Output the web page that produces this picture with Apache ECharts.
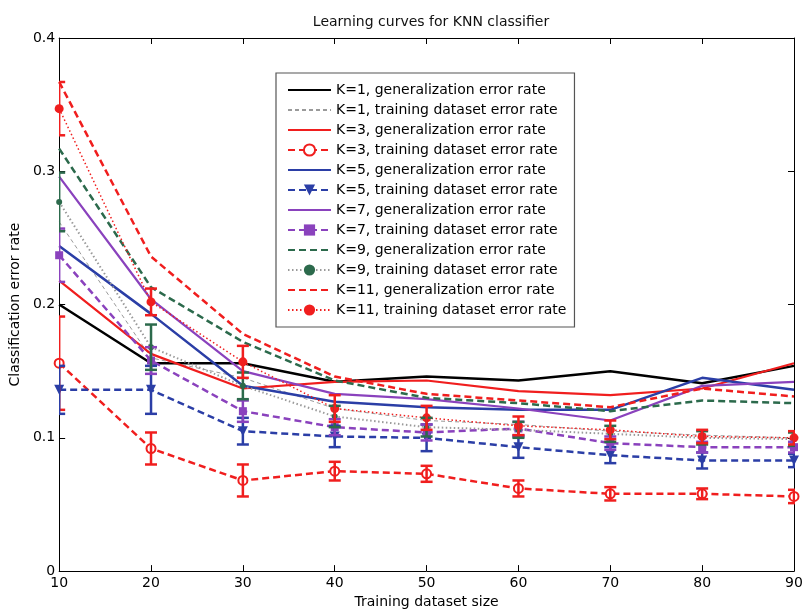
<!DOCTYPE html>
<html>
<head>
<meta charset="utf-8">
<script src="https://cdn.jsdelivr.net/npm/echarts@6/dist/echarts.min.js"></script>
<style>
html,body{margin:0;padding:0;background:#fff;}
#chart{width:810px;height:614px;}
</style>
</head>
<body>
<div id="chart"></div>
<script>
// ---- data ----
const sizes = [10, 20, 30, 40, 50, 60, 70, 80, 90];
const yTicks = [0, 0.1, 0.2, 0.3, 0.4];

const k1Gen   = [0.200, 0.156, 0.156, 0.142, 0.146, 0.143, 0.150, 0.141, 0.154];
const k1Train = [0.262, 0.160, 0.145, 0.122, 0.113, 0.110, 0.105, 0.102, 0.100];
const k3Gen   = [0.218, 0.163, 0.137, 0.142, 0.143, 0.135, 0.132, 0.137, 0.156];
const k3Train = [0.156, 0.092, 0.068, 0.075, 0.073, 0.062, 0.058, 0.058, 0.056];
const k3Err   = [0.035, 0.012, 0.012, 0.007, 0.006, 0.006, 0.005, 0.004, 0.005];
const k5Gen   = [0.244, 0.193, 0.139, 0.127, 0.123, 0.121, 0.121, 0.145, 0.136];
const k5Train = [0.136, 0.136, 0.105, 0.101, 0.100, 0.093, 0.087, 0.083, 0.083];
const k5Err   = [0.018, 0.018, 0.010, 0.008, 0.010, 0.008, 0.006, 0.006, 0.005];
const k7Gen   = [0.296, 0.204, 0.150, 0.133, 0.129, 0.122, 0.113, 0.139, 0.142];
const k7Train = [0.237, 0.158, 0.120, 0.108, 0.104, 0.107, 0.096, 0.093, 0.093];
const k7Err   = [0.020, 0.010, 0.008, 0.006, 0.006, 0.005, 0.005, 0.004, 0.004];
const k9Gen   = [0.317, 0.213, 0.172, 0.143, 0.130, 0.126, 0.120, 0.128, 0.126];
const k9Train = [0.277, 0.168, 0.139, 0.116, 0.108, 0.106, 0.103, 0.100, 0.099];
const k9Err   = [0.022, 0.017, 0.010, 0.008, 0.007, 0.006, 0.006, 0.005, 0.005];
const k11Gen  = [0.367, 0.236, 0.178, 0.146, 0.133, 0.128, 0.123, 0.137, 0.131];
const k11Train= [0.347, 0.202, 0.157, 0.122, 0.115, 0.109, 0.106, 0.101, 0.100];
const k11Err  = [0.020, 0.010, 0.012, 0.010, 0.009, 0.007, 0.007, 0.005, 0.005];

const names = [
  'K=1, generalization error rate', 'K=1, training dataset error rate',
  'K=3, generalization error rate', 'K=3, training dataset error rate',
  'K=5, generalization error rate', 'K=5, training dataset error rate',
  'K=7, generalization error rate', 'K=7, training dataset error rate',
  'K=9, generalization error rate', 'K=9, training dataset error rate',
  'K=11, generalization error rate', 'K=11, training dataset error rate'
];
// which legend entries carry a marker
const hasMarker = [false, false, false, true, false, true, false, true, false, true, false, true];

// ---- styles ----
const RED = '#f01e1e', BLUE = '#2b3ea6', PURPLE = '#8a42bd', GREEN = '#2c6a4c', BLACK = '#000000', GRAY = '#9a9a9a';
const DASH = [7, 4], DOT = [1.5, 2.5];
const FONT = '"DejaVu Sans", Verdana, sans-serif';

function pairs(vals) { return sizes.map((x, i) => [x, vals[i]]); }
function triples(vals, errs) { return sizes.map((x, i) => [x, vals[i], errs[i]]); }

function lineSeries(name, vals, color, width, type, symbol, symbolSize, symColor, filled) {
  return {
    name, type: 'line', data: pairs(vals), z: 3,
    symbol: symbol || 'none', symbolSize: symbolSize || 0, showSymbol: !!symbol,
    lineStyle: { color, width, type },
    itemStyle: { color: symColor || color, borderColor: symColor || color, borderWidth: filled ? 0 : 1.8 },
    emphasis: { disabled: true },
    animation: false
  };
}

function errSeries(name, vals, errs, color) {
  return {
    name, type: 'custom', data: triples(vals, errs), z: 4, clip: true,
    animation: false, silent: true,
    renderItem(params, api) {
      const x = api.value(0), y = api.value(1), e = api.value(2);
      const hi = api.coord([x, y + e]);
      const lo = api.coord([x, y - e]);
      const w = 6;
      const st = { stroke: color, lineWidth: 2.5, fill: null };
      return {
        type: 'group', children: [
          { type: 'line', shape: { x1: hi[0], y1: hi[1], x2: lo[0], y2: lo[1] }, style: st },
          { type: 'line', shape: { x1: hi[0] - w, y1: hi[1], x2: hi[0] + w, y2: hi[1] }, style: st },
          { type: 'line', shape: { x1: lo[0] - w, y1: lo[1], x2: lo[0] + w, y2: lo[1] }, style: st }
        ]
      };
    }
  };
}

const triDown = 'path://M0,0 L10,0 L5,9 Z';

const series = [
  lineSeries(names[0], k1Gen, BLACK, 2.5, 'solid'),
  lineSeries(names[1], k1Train, GRAY, 1, [4, 3]),
  lineSeries(names[2], k3Gen, RED, 2.2, 'solid'),
  errSeries('e3', k3Train, k3Err, RED),
  lineSeries(names[3], k3Train, RED, 2.5, DASH, 'emptyCircle', 9, RED, false),
  lineSeries(names[4], k5Gen, BLUE, 2.5, 'solid'),
  errSeries('e5', k5Train, k5Err, BLUE),
  lineSeries(names[5], k5Train, BLUE, 2.5, DASH, triDown, 10, BLUE, true),
  lineSeries(names[6], k7Gen, PURPLE, 2.2, 'solid'),
  errSeries('e7', k7Train, k7Err, PURPLE),
  lineSeries(names[7], k7Train, PURPLE, 2.5, DASH, 'rect', 8, PURPLE, true),
  lineSeries(names[8], k9Gen, GREEN, 2.5, DASH),
  errSeries('e9', k9Train, k9Err, GREEN),
  lineSeries(names[9], k9Train, GRAY, 2, DOT, 'circle', 6, GREEN, true),
  lineSeries(names[10], k11Gen, RED, 2.5, DASH),
  errSeries('e11', k11Train, k11Err, RED),
  lineSeries(names[11], k11Train, RED, 1.5, DOT, 'circle', 9, RED, true)
];

const legendData = names.map((n, i) => hasMarker[i] ? { name: n } : { name: n, itemStyle: { opacity: 0 } });

const chart = echarts.init(document.getElementById('chart'), null, { renderer: 'canvas' });
chart.setOption({
  backgroundColor: '#ffffff',
  animation: false,
  textStyle: { fontFamily: FONT },
  title: {
    text: 'Learning curves for KNN classifier',
    left: 426, top: 10, textAlign: 'center',
    textStyle: { fontSize: 14, fontWeight: 'normal', color: '#111', fontFamily: FONT }
  },
  grid: { left: 59, right: 16, top: 38, bottom: 41, show: false },
  legend: {
    orient: 'vertical', left: 276, top: 73,
    data: legendData,
    itemWidth: 43, itemHeight: 14, itemGap: 6,
    padding: [10, 8, 10, 11],
    backgroundColor: '#ffffff', borderColor: '#555', borderWidth: 1.2,
    textStyle: { fontSize: 14, color: '#000', fontFamily: FONT },
    selectedMode: false
  },
  xAxis: [{
    type: 'value', min: 10, max: 90, interval: 10,
    name: 'Training dataset size', nameLocation: 'middle', nameGap: 20,
    nameTextStyle: { fontSize: 14, color: '#000', fontFamily: FONT },
    axisLine: { show: true, onZero: false, lineStyle: { color: '#000', width: 1 } },
    axisTick: { show: true, inside: true, length: 6, lineStyle: { color: '#000' } },
    axisLabel: { fontSize: 14, color: '#000', margin: 5, fontFamily: FONT },
    splitLine: { show: false }
  }, {
    type: 'value', min: 10, max: 90, interval: 10, position: 'top',
    axisLine: { show: true, onZero: false, lineStyle: { color: '#000', width: 1 } },
    axisTick: { show: true, inside: true, length: 6, lineStyle: { color: '#000' } },
    axisLabel: { show: false }, splitLine: { show: false }
  }],
  yAxis: [{
    type: 'value', min: yTicks[0], max: yTicks[yTicks.length - 1], interval: 0.1,
    name: 'Classification error rate', nameLocation: 'middle', nameGap: 34,
    nameTextStyle: { fontSize: 14, color: '#000', fontFamily: FONT },
    axisLine: { show: true, onZero: false, lineStyle: { color: '#000', width: 1 } },
    axisTick: { show: true, inside: true, length: 6, lineStyle: { color: '#000' } },
    axisLabel: { fontSize: 14, color: '#000', margin: 4, fontFamily: FONT,
      formatter: v => (v === 0 ? '0' : String(Math.round(v * 10) / 10)) },
    splitLine: { show: false }
  }, {
    type: 'value', min: yTicks[0], max: yTicks[yTicks.length - 1], interval: 0.1, position: 'right',
    axisLine: { show: true, onZero: false, lineStyle: { color: '#000', width: 1 } },
    axisTick: { show: true, inside: true, length: 6, lineStyle: { color: '#000' } },
    axisLabel: { show: false }, splitLine: { show: false }
  }],
  series
});
</script>
</body>
</html>
